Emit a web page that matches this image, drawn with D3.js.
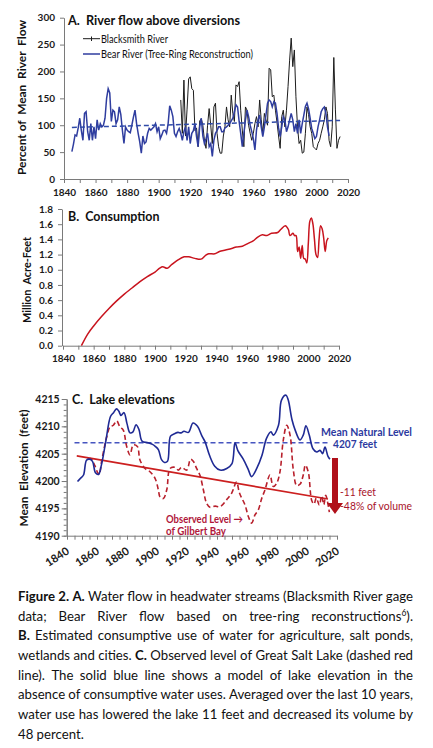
<!DOCTYPE html>
<html><head><meta charset="utf-8">
<script src="https://cdn.jsdelivr.net/npm/d3@7"></script>
<style>body{margin:0;background:#fff} svg{display:block}</style>
</head><body><svg id="c" width="433" height="748"></svg>
<script>
// ---------- DATA ----------
const yearTicks = [1840,1860,1880,1900,1920,1940,1960,1980,2000,2020];
const flowTicks = [0,50,100,150,200,250,300];
const bearStart = 1845;
const bearFlow = [51,65,82,80,95,
 113,90,72,122,125,88,72,103,72,97,
 75,110,91,103,97,100,113,150,168,160,
 107,128,125,103,110,134,120,91,66,97,
 91,88,86,100,115,128,103,85,69,48,
 80,66,69,85,94,91,94,97,103,88,
 97,75,82,90,91,85,103,136,128,116,
 85,79,88,94,85,72,88,97,72,97,
 66,85,90,103,79,60,97,113,80,66,
 75,85,60,66,42,72,85,90,97,97,
 88,88,95,97,100,103,108,113,125,138,
 134,107,85,60,85,110,128,116,100,88,
 75,54,91,110,119,97,79,97,119,141,
 147,144,134,144,141,122,95,79,97,116,
 110,88,97,110,122,110,88,103,85,110,
 85,103,119,135,141,131,113,94,85,75,
 79,97,110,125,131,134,122,97,80];
const blackStart = 1914;
const blackFlow = [147,85,184,80,130,186,
 190,168,165,90,95,60,108,112,100,72,
 57,100,131,100,66,134,141,85,60,48,
 48,80,97,134,110,97,156,122,107,175,
 172,181,128,91,60,134,128,100,85,72,
 85,103,116,97,147,110,85,122,110,100,
 206,203,153,156,128,105,80,57,116,128,
 97,128,172,221,262,209,240,153,97,66,
 72,48,50,85,134,120,97,85,60,57,
 54,66,72,85,97,110,134,122,72,60,
 97,226,130,57,72,79];
const flowTrendYears = [1845,2015];
const flowTrend = [96,109];

const consTicks = [0,0.2,0.4,0.6,0.8,1.0,1.2,1.4,1.6,1.8];
const consYears = [1852,1856,1860,1865,1870,1875,1880,1885,1890,1895,1900,1903,1905,1908,1911,1915,1919,1922,1926,1930,1933,1935,1939,1942,1946,1950,1953,1957,1961,1964,1967,1970,1973,1976,1980,1982,1985,1987,1988,1990,1991,1992,1993,1994,1995,1996,1997,1998,1999,2000,2001,2002,2003,2004,2005,2006,2007,2008,2009,2010,2011,2012,2013];
const consValues = [0.0,0.15,0.26,0.38,0.49,0.59,0.68,0.76,0.84,0.91,0.97,1.02,1.04,1.02,1.07,1.13,1.17,1.17,1.15,1.14,1.19,1.21,1.21,1.24,1.26,1.28,1.30,1.31,1.35,1.38,1.43,1.46,1.45,1.48,1.49,1.53,1.58,1.53,1.45,1.48,1.45,1.45,1.24,1.30,1.15,1.32,1.15,1.14,1.09,1.35,1.64,1.68,1.60,1.40,1.20,1.16,1.40,1.58,1.54,1.42,1.24,1.38,1.42];

const elevTicks = [4190,4195,4200,4205,4210,4215];
const modelYears = [1847,1849,1851,1853,1855,1857,1859,1861,1863,1866,1869,1871,1873,1874.5,1876,1878,1880,1882,1884,1886,1888,1890,1894,1897,1899,1901,1903,1905,1907,1909,1912,1914,1916,1918,1921,1924,1927,1930,1932,1935,1938.5,1942,1946.5,1950,1952,1954,1957.5,1961,1963,1966.5,1970,1973,1976,1977.5,1981,1983,1986,1987.5,1990,1992,1995.3,1997.5,1999.3,2001.5,2004,2006.5,2008.7,2010.4,2012,2014,2015.3];
const modelElev = [4199.9,4200.5,4201.1,4203.8,4204.0,4203.6,4201.5,4201.2,4203.0,4207.5,4211.8,4212.5,4213.2,4212.8,4212.0,4212.5,4210.5,4208.8,4209.0,4210.3,4209.4,4207.3,4207.0,4206.7,4206.3,4205.7,4203.9,4203.4,4203.6,4208.2,4208.7,4208.9,4208.8,4209.1,4208.9,4210.6,4210.0,4208.2,4207.2,4204.7,4202.7,4202.0,4202.3,4203.2,4207.0,4205.5,4204.0,4202.0,4200.8,4202.3,4204.7,4207.8,4209.0,4208.4,4210.2,4214.8,4215.7,4214.8,4211.2,4209.4,4207.5,4208.4,4210.1,4208.4,4205.9,4205.3,4205.6,4205.0,4206.2,4204.5,4204.0];
const obsYears = [1854,1856,1858.6,1860.5,1861.5,1863,1866.5,1868.7,1870.9,1873.1,1875.3,1877.5,1879.8,1882,1884.2,1886.9,1888.7,1892,1895.3,1898.7,1900.9,1902,1904.2,1906.5,1908.7,1912,1914.2,1916.5,1919.8,1922.4,1924.2,1926.4,1928.7,1930.9,1933.1,1935.3,1938.7,1942,1946.5,1949.8,1953,1955,1958.7,1960.9,1963.1,1965.3,1967.5,1969.8,1972,1975.3,1977.5,1979.8,1982,1984.2,1986.5,1988.7,1990.9,1993.1,1995.3,1997.5,1998.9,2000.9,2003.1,2004.7,2006.2,2008.2,2009.8,2011.2,2012.5,2014.9];
const obsElev = [4204.0,4204.1,4202.8,4201.5,4201.2,4203.5,4208.1,4209.9,4210.2,4211.0,4209.9,4209.3,4206.3,4204.8,4206.6,4206.3,4203.8,4202.3,4201.7,4200.5,4198.4,4197.1,4196.8,4198.4,4202.3,4202.5,4202.0,4202.5,4202.0,4204.0,4203.6,4202.3,4201.0,4198.4,4195.9,4195.2,4195.4,4195.3,4196.6,4197.8,4199.8,4197.8,4195.6,4193.5,4192.3,4193.8,4194.7,4196.8,4198.4,4201.1,4199.0,4199.6,4201.7,4207.5,4210.2,4208.4,4202.0,4199.2,4199.4,4201.1,4202.9,4201.6,4196.5,4195.8,4196.9,4195.6,4197.3,4195.7,4197.4,4194.3];
const naturalMean = 4207;
const trendYears = [1846.5,2014];
const trendElev = [4204.6,4196.7];

const captionLines = [
 "**Figure 2.  A.** Water flow in headwater streams (Blacksmith River gage",
 "data; Bear River flow based on tree-ring reconstructions^6).",
 "**B.** Estimated consumptive use of water for agriculture, salt ponds,",
 "wetlands and cities.  **C.** Observed level of Great Salt Lake (dashed red",
 "line).  The solid blue line shows a model of lake elevation in the",
 "absence of consumptive water uses.  Averaged over the last 10 years,",
 "water use has lowered the lake 11 feet and decreased its volume by",
 "48 percent."
];

// ---------- DRAW ----------
const FONT = "Lato, 'Open Sans', 'DejaVu Sans', sans-serif";
const svg = d3.select('#c').attr('font-family', FONT);
const AX = '#7a7a7a';

function fit(sel, w){ sel.attr('textLength', w).attr('lengthAdjust','spacingAndGlyphs'); return sel; }
function styleAxis(g, fs){
  g.select('.domain').attr('stroke', AX).attr('stroke-width',1);
  g.selectAll('.tick line').attr('stroke', AX);
  g.selectAll('text').attr('font-family', FONT).attr('font-weight','bold').attr('font-size', fs).attr('fill','#1a1a1a');
}
function label(x,y,t,opt){
  const s = svg.append('text').attr('x',x).attr('y',y).text(t)
    .attr('font-size',opt.fs).attr('font-weight',opt.fw||'normal').attr('fill',opt.fill||'#111');
  if(opt.anchor) s.attr('text-anchor',opt.anchor);
  if(opt.w) fit(s,opt.w);
  return s;
}
function vlabel(cx,cy,t,fs,w){
  const s = svg.append('text').attr('transform',`translate(${cx},${cy}) rotate(-90)`)
    .attr('text-anchor','middle').attr('font-size',fs).attr('font-weight','bold').attr('fill','#111').text(t)
    .style('white-space','pre');
  if(w) fit(s,w);
}

// ----- Panel A -----
const xA = d3.scaleLinear().domain([1840,2020]).range([64,348]);
const yA = d3.scaleLinear().domain([0,300]).range([179,17.7]);
svg.append('g').attr('transform','translate(0,179)')
  .call(d3.axisBottom(xA).tickValues(d3.range(1840,2021,10)).tickSize(4).tickSizeOuter(0).tickPadding(6)
    .tickFormat(d=> yearTicks.includes(d)? d : ''))
  .call(g=>styleAxis(g,10));
svg.append('g').attr('transform','translate(64,0)')
  .call(d3.axisLeft(yA).tickValues(flowTicks).tickSize(4).tickSizeOuter(0).tickPadding(5))
  .call(g=>styleAxis(g,10));

const bearData = bearFlow.map((v,i)=>[bearStart+i, v]);
const blackData = blackFlow.map((v,i)=>[blackStart+i, v]);
const lineA = d3.line().x(d=>xA(d[0])).y(d=>yA(d[1]));
svg.append('path').datum(blackData).attr('d',lineA).attr('fill','none').attr('stroke','#1c1c1c').attr('stroke-width',1);
svg.append('path').datum(bearData).attr('d',lineA).attr('fill','none').attr('stroke','#2f3d9f').attr('stroke-width',1.5);
svg.append('path').datum(flowTrendYears.map((y,i)=>[y,flowTrend[i]])).attr('d',lineA).attr('fill','none')
  .attr('stroke','#2f4aa8').attr('stroke-width',1.5).attr('stroke-dasharray','5,3');

label(68,25,'A.  River flow above diversions',{fs:14,fw:'bold',w:172}).style('white-space','pre');
// legend
svg.append('line').attr('x1',83).attr('x2',100).attr('y1',38.7).attr('y2',38.7).attr('stroke','#1c1c1c').attr('stroke-width',1);
svg.append('line').attr('x1',91.5).attr('x2',91.5).attr('y1',36.5).attr('y2',41).attr('stroke','#1c1c1c').attr('stroke-width',1);
label(101,42.5,'Blacksmith River',{fs:10.5,w:67});
svg.append('line').attr('x1',83).attr('x2',100).attr('y1',54).attr('y2',54).attr('stroke','#2f3d9f').attr('stroke-width',1.5);
label(101,57.8,'Bear River (Tree-Ring Reconstruction)',{fs:10.5,w:152});
vlabel(26,97.5,'Percent of  Mean  River  Flow',12,155);

// ----- Panel B -----
const xB = d3.scaleLinear().domain([1840,2020]).range([63,339]);
const yB = d3.scaleLinear().domain([0,1.8]).range([345.7,209]);
svg.append('g').attr('transform','translate(0,345.7)')
  .call(d3.axisBottom(xB).tickValues(d3.range(1840,2021,10)).tickSize(4).tickSizeOuter(0).tickPadding(5)
    .tickFormat(d=> yearTicks.includes(d)? d : ''))
  .call(g=>styleAxis(g,10));
svg.append('g').attr('transform','translate(62,0)')
  .call(d3.axisLeft(yB).tickValues(consTicks).tickSize(4).tickSizeOuter(0).tickPadding(5).tickFormat(d3.format('.1f')))
  .call(g=>styleAxis(g,10));
const lineB = d3.line().x(d=>xB(d[0])).y(d=>yB(d[1])).curve(d3.curveCatmullRom.alpha(0.5));
svg.append('path').datum(consYears.map((y,i)=>[y,consValues[i]])).attr('d',lineB).attr('fill','none')
  .attr('stroke','#c8141e').attr('stroke-width',1.5);
label(68,221,'B.  Consumption',{fs:14,fw:'bold',w:91.5}).style('white-space','pre');
vlabel(31,280,'Million  Acre-Feet',12,86);

// ----- Panel C -----
const xC = d3.scaleLinear().domain([1840,2020]).range([67,337]);
const yC = d3.scaleLinear().domain([4190,4215]).range([535.7,399]);
svg.append('g').attr('transform','translate(66.7,0)')
  .call(d3.axisLeft(yC).tickValues(d3.range(4190,4216,1)).tickSize(3).tickSizeOuter(0).tickFormat(''))
  .call(g=>styleAxis(g,10));
svg.append('g').attr('transform','translate(66.7,0)')
  .call(d3.axisLeft(yC).tickValues(elevTicks).tickSize(5).tickSizeOuter(0).tickPadding(2).tickFormat(d3.format('d')))
  .call(g=>styleAxis(g,10.5));
svg.append('g').attr('transform','translate(0,535.7)')
  .call(d3.axisBottom(xC).tickValues(d3.range(1840,2021,5)).tickSize(4).tickSizeOuter(0).tickFormat(''))
  .call(g=>styleAxis(g,10));
yearTicks.forEach(y=>{
  svg.append('text').attr('transform',`translate(${xC(y)+3},553) rotate(-33)`).attr('text-anchor','end')
    .attr('font-size',11).attr('font-weight','bold').attr('fill','#1a1a1a').text(y);
});
const lineC = d3.line().x(d=>xC(d[0])).y(d=>yC(d[1])).curve(d3.curveCatmullRom.alpha(0.5));
svg.append('path').datum([[1845,naturalMean],[2015,naturalMean]]).attr('d',lineC).attr('fill','none')
  .attr('stroke','#4655c0').attr('stroke-width',1.5).attr('stroke-dasharray','5,3');
svg.append('path').datum(trendYears.map((y,i)=>[y,trendElev[i]])).attr('d',lineC).attr('fill','none')
  .attr('stroke','#cc1f1f').attr('stroke-width',1.6);
svg.append('path').datum(obsYears.map((y,i)=>[y,obsElev[i]])).attr('d',lineC).attr('fill','none')
  .attr('stroke','#b8202c').attr('stroke-width',1.6).attr('stroke-dasharray','5,3');
svg.append('path').datum(modelYears.map((y,i)=>[y,modelElev[i]])).attr('d',lineC).attr('fill','none')
  .attr('stroke','#1f2a94').attr('stroke-width',1.6);

label(72,404,'C.  Lake elevations',{fs:14,fw:'bold',w:102.7}).style('white-space','pre');
vlabel(28,468,'Mean  Elevation  (feet)',12,117);
label(321,435.5,'Mean Natural Level',{fs:11,fw:'bold',fill:'#2c3aa0',w:91});
label(333,448,'4207 feet',{fs:11,fw:'bold',fill:'#2c3aa0',w:44});
// arrow
const ax = 335;
svg.append('path').attr('d',`M${ax-3},458 L${ax+3},458 L${ax+3},503 L${ax+8},503 L${ax},514 L${ax-8},503 L${ax-3},503 Z`)
  .attr('fill','#b0101a');
label(340,496,'-11 feet',{fs:11,fill:'#a8122a',w:36});
label(340,509.5,'-48% of volume',{fs:11,fill:'#a8122a',w:72});
label(166,523,'Observed Level \u2192',{fs:11,fw:'bold',fill:'#b0163a',w:77});
label(166,535,'of Gilbert Bay',{fs:11,fw:'bold',fill:'#b0163a',w:60});

// ----- Caption -----
const capX0 = 18, capX1 = 413, capFS = 13.2;
const capBase = [601,620.7,640.4,660,679.8,699.4,719,738.7];
captionLines.forEach((line,li)=>{
  const parts = line.split('**');
  const words = [];
  parts.forEach((p,pi)=>{ p.split(/\s+/).filter(w=>w.length).forEach(w=>words.push({w, b: pi%2===1})); });
  const nodes = words.map(o=>{
    const t = svg.append('text').attr('y',capBase[li]).attr('font-size',capFS)
      .attr('font-weight', o.b?'bold':'normal').attr('fill','#111');
    if(o.w.includes('^')){
      const [a,rest] = o.w.split('^');
      t.append('tspan').text(a);
      t.append('tspan').attr('font-size',8.5).attr('dy',-5).text(rest[0]);
      t.append('tspan').attr('dy',5).text(rest.slice(1));
    } else t.text(o.w);
    return t;
  });
  const lens = nodes.map(n=>n.node().getComputedTextLength());
  const total = d3.sum(lens);
  const justify = li < captionLines.length-1;
  const gap = justify ? (capX1-capX0-total)/(nodes.length-1) : 3.3;
  let x = capX0;
  nodes.forEach((n,i)=>{ n.attr('x',x); x += lens[i] + gap; });
});
</script></body></html>
